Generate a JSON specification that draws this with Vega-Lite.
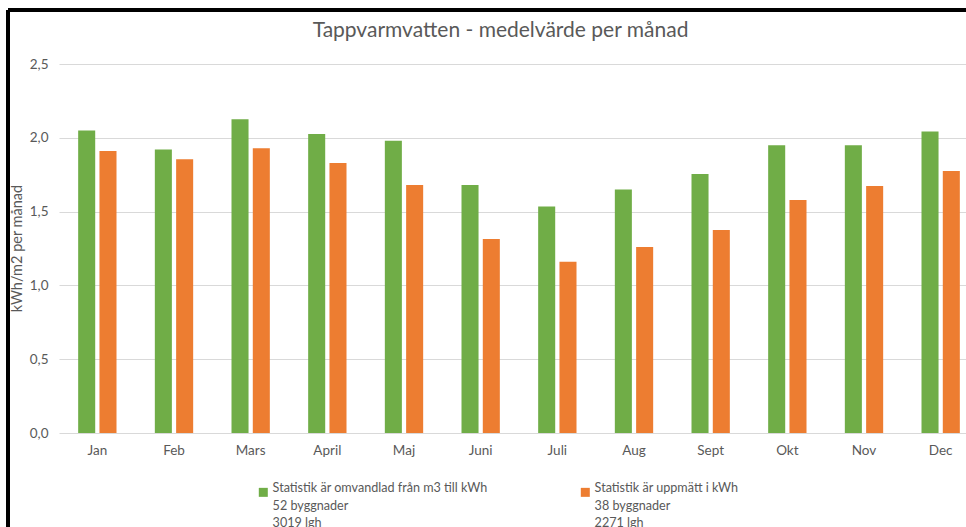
{
  "$schema": "https://vega.github.io/schema/vega-lite/v6.json",
  "width": 907,
  "height": 369,
  "autosize": "none",
  "padding": {"left": 59, "top": 64, "right": 0, "bottom": 94},
  "background": "white",
  "config": {
    "view": {"stroke": null},
    "font": "Lato",
    "style": {"guide-label": {"lineHeight": 17.5}}
  },
  "title": {
    "text": "Tappvarmvatten - medelvärde per månad",
    "font": "Lato",
    "fontSize": 21,
    "fontWeight": "normal",
    "color": "#595959",
    "dx": -12,
    "offset": -32
  },
  "data": {
    "values": [
      {"month": "Jan", "series": "Statistik är omvandlad från m3 till kWh|52 byggnader|3019 lgh", "value": 2.05},
      {"month": "Jan", "series": "Statistik är uppmätt i kWh|38 byggnader|2271 lgh", "value": 1.91},
      {"month": "Feb", "series": "Statistik är omvandlad från m3 till kWh|52 byggnader|3019 lgh", "value": 1.92},
      {"month": "Feb", "series": "Statistik är uppmätt i kWh|38 byggnader|2271 lgh", "value": 1.855},
      {"month": "Mars", "series": "Statistik är omvandlad från m3 till kWh|52 byggnader|3019 lgh", "value": 2.125},
      {"month": "Mars", "series": "Statistik är uppmätt i kWh|38 byggnader|2271 lgh", "value": 1.93},
      {"month": "April", "series": "Statistik är omvandlad från m3 till kWh|52 byggnader|3019 lgh", "value": 2.025},
      {"month": "April", "series": "Statistik är uppmätt i kWh|38 byggnader|2271 lgh", "value": 1.83},
      {"month": "Maj", "series": "Statistik är omvandlad från m3 till kWh|52 byggnader|3019 lgh", "value": 1.98},
      {"month": "Maj", "series": "Statistik är uppmätt i kWh|38 byggnader|2271 lgh", "value": 1.68},
      {"month": "Juni", "series": "Statistik är omvandlad från m3 till kWh|52 byggnader|3019 lgh", "value": 1.68},
      {"month": "Juni", "series": "Statistik är uppmätt i kWh|38 byggnader|2271 lgh", "value": 1.315},
      {"month": "Juli", "series": "Statistik är omvandlad från m3 till kWh|52 byggnader|3019 lgh", "value": 1.535},
      {"month": "Juli", "series": "Statistik är uppmätt i kWh|38 byggnader|2271 lgh", "value": 1.16},
      {"month": "Aug", "series": "Statistik är omvandlad från m3 till kWh|52 byggnader|3019 lgh", "value": 1.65},
      {"month": "Aug", "series": "Statistik är uppmätt i kWh|38 byggnader|2271 lgh", "value": 1.26},
      {"month": "Sept", "series": "Statistik är omvandlad från m3 till kWh|52 byggnader|3019 lgh", "value": 1.755},
      {"month": "Sept", "series": "Statistik är uppmätt i kWh|38 byggnader|2271 lgh", "value": 1.375},
      {"month": "Okt", "series": "Statistik är omvandlad från m3 till kWh|52 byggnader|3019 lgh", "value": 1.95},
      {"month": "Okt", "series": "Statistik är uppmätt i kWh|38 byggnader|2271 lgh", "value": 1.578},
      {"month": "Nov", "series": "Statistik är omvandlad från m3 till kWh|52 byggnader|3019 lgh", "value": 1.95},
      {"month": "Nov", "series": "Statistik är uppmätt i kWh|38 byggnader|2271 lgh", "value": 1.673},
      {"month": "Dec", "series": "Statistik är omvandlad från m3 till kWh|52 byggnader|3019 lgh", "value": 2.043},
      {"month": "Dec", "series": "Statistik är uppmätt i kWh|38 byggnader|2271 lgh", "value": 1.775}
    ]
  },
  "layer": [
    {
      "mark": {"type": "bar"},
      "encoding": {
        "x": {
          "field": "month",
          "type": "nominal",
          "sort": null,
          "scale": {"paddingInner": 0.5, "paddingOuter": 0.25, "range": [0, 920]},
          "axis": {
            "title": null,
            "labelAngle": 0,
            "domain": false,
            "ticks": false,
            "labelPadding": 10,
            "labelFontSize": 13.5,
            "labelColor": "#595959",
            "labelFont": "Lato"
          }
        },
        "xOffset": {
          "field": "series",
          "type": "nominal",
          "sort": null,
          "scale": {"paddingInner": 0.2, "paddingOuter": 0}
        },
        "y": {
          "field": "value",
          "type": "quantitative",
          "scale": {"domain": [0, 2.5], "nice": false},
          "axis": {
            "values": [0, 0.5, 1, 1.5, 2, 2.5],
            "format": ".1f",
            "labelExpr": "replace(datum.label, '.', ',')",
            "domain": false,
            "ticks": false,
            "labelPadding": 11,
            "labelFontSize": 13.5,
            "labelColor": "#595959",
            "labelFont": "Lato",
            "gridColor": "#D9D9D9",
            "gridWidth": 1,
            "title": "kWh/m2 per månad",
            "titleFont": "Lato",
            "titleFontSize": 14.5,
            "titleFontWeight": "normal",
            "titleColor": "#595959",
            "titleX": -42,
            "titleY": 184,
            "titleAngle": -90,
            "titleAlign": "center",
            "titleBaseline": "middle"
          }
        },
        "color": {
          "field": "series",
          "type": "nominal",
          "sort": null,
          "scale": {"range": ["#70AD47", "#ED7D31"]},
          "legend": {
            "title": null,
            "orient": "none",
            "legendX": 198,
            "legendY": 422,
            "direction": "horizontal",
            "columns": 2,
            "columnPadding": 91,
            "symbolType": "square",
            "symbolSize": 81,
            "symbolStrokeWidth": 0,
            "labelFont": "Lato",
            "labelFontSize": 12.6,
            "labelColor": "#595959",
            "labelLimit": 0,
            "labelOffset": 3,
            "labelBaseline": "alphabetic",
            "labelExpr": "split(datum.label, '|')"
          }
        }
      }
    },
    {
      "mark": {"type": "rule", "color": "#000000", "strokeWidth": 2.5},
      "encoding": {
        "x": {"datum": "Jan", "bandPosition": -1.83},
        "y": {"datum": 2.866},
        "y2": {"datum": -0.8}
      }
    },
    {
      "mark": {"type": "rule", "color": "#000000", "strokeWidth": 2.5},
      "encoding": {
        "x": {"datum": "Jan", "bandPosition": -1.83},
        "x2": {"datum": "Dec", "bandPosition": 3},
        "y": {"datum": 2.866}
      }
    }
  ]
}
